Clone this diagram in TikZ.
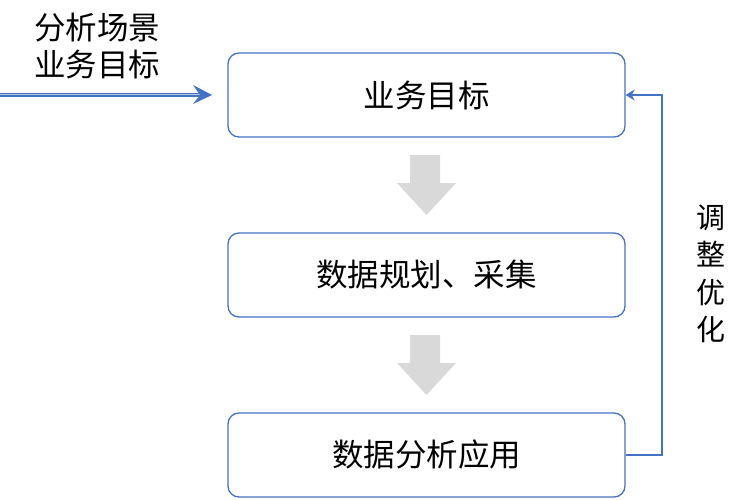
\documentclass[tikz,border=0pt]{standalone}
\usepackage{fontspec}
\setmainfont{Noto Sans CJK SC}
\usetikzlibrary{arrows.meta}
\definecolor{bl}{HTML}{4472C4}
\definecolor{gr}{HTML}{D9D9D9}
\begin{document}
\begin{tikzpicture}[x=1pt,y=-1pt,
  box/.style={draw=bl,line width=1.3pt,rounded corners=11pt,minimum width=397pt,minimum height=84pt,inner sep=0pt,font=\fontsize{31.5}{36}\selectfont},
  conn/.style={draw=bl,line width=1.5pt},
  lbl/.style={font=\fontsize{31.5}{37}\selectfont,inner sep=0pt,align=left}]
\useasboundingbox (0,0) rectangle (744,500);
\node[box] (b1) at (426.5,95) {业务目标};
\node[box] (b2) at (426.5,275) {数据规划、采集};
\node[box] (b3) at (426.5,455) {数据分析应用};
\node[lbl] (t1) at (97,46) {分析场景\\业务目标};
\node[lbl,align=center,font=\fontsize{29}{37.5}\selectfont] (t2) at (711,274) {调\\整\\优\\化};
\coordinate (s) at (0,95);
\coordinate (e) at (212,95);
\draw[bl,line width=3.5pt] (s) -- ([xshift=-6pt]e);
\draw[white!60!bl,line width=1pt] (s) -- ([xshift=-6pt]e);
\fill[bl] (e) -- (193,85) -- (200,95) -- (193,104) -- cycle;
% gray arrows
\foreach \y/\n in {155/a1,335/a2}{
  \fill[gr] (410,\y) -- (440,\y) -- (440,\y+28) -- (456,\y+28) -- (426.5,\y+60) -- (397,\y+28) -- (410,\y+28) -- cycle;
}
\coordinate (r1) at (662,455);
\coordinate (r2) at (662,95);
\draw[conn,-{Stealth[length=9pt,width=11pt]}] (b3.east) -- (r1) -- (r2) -- (b1.east);
\end{tikzpicture}
\end{document}
